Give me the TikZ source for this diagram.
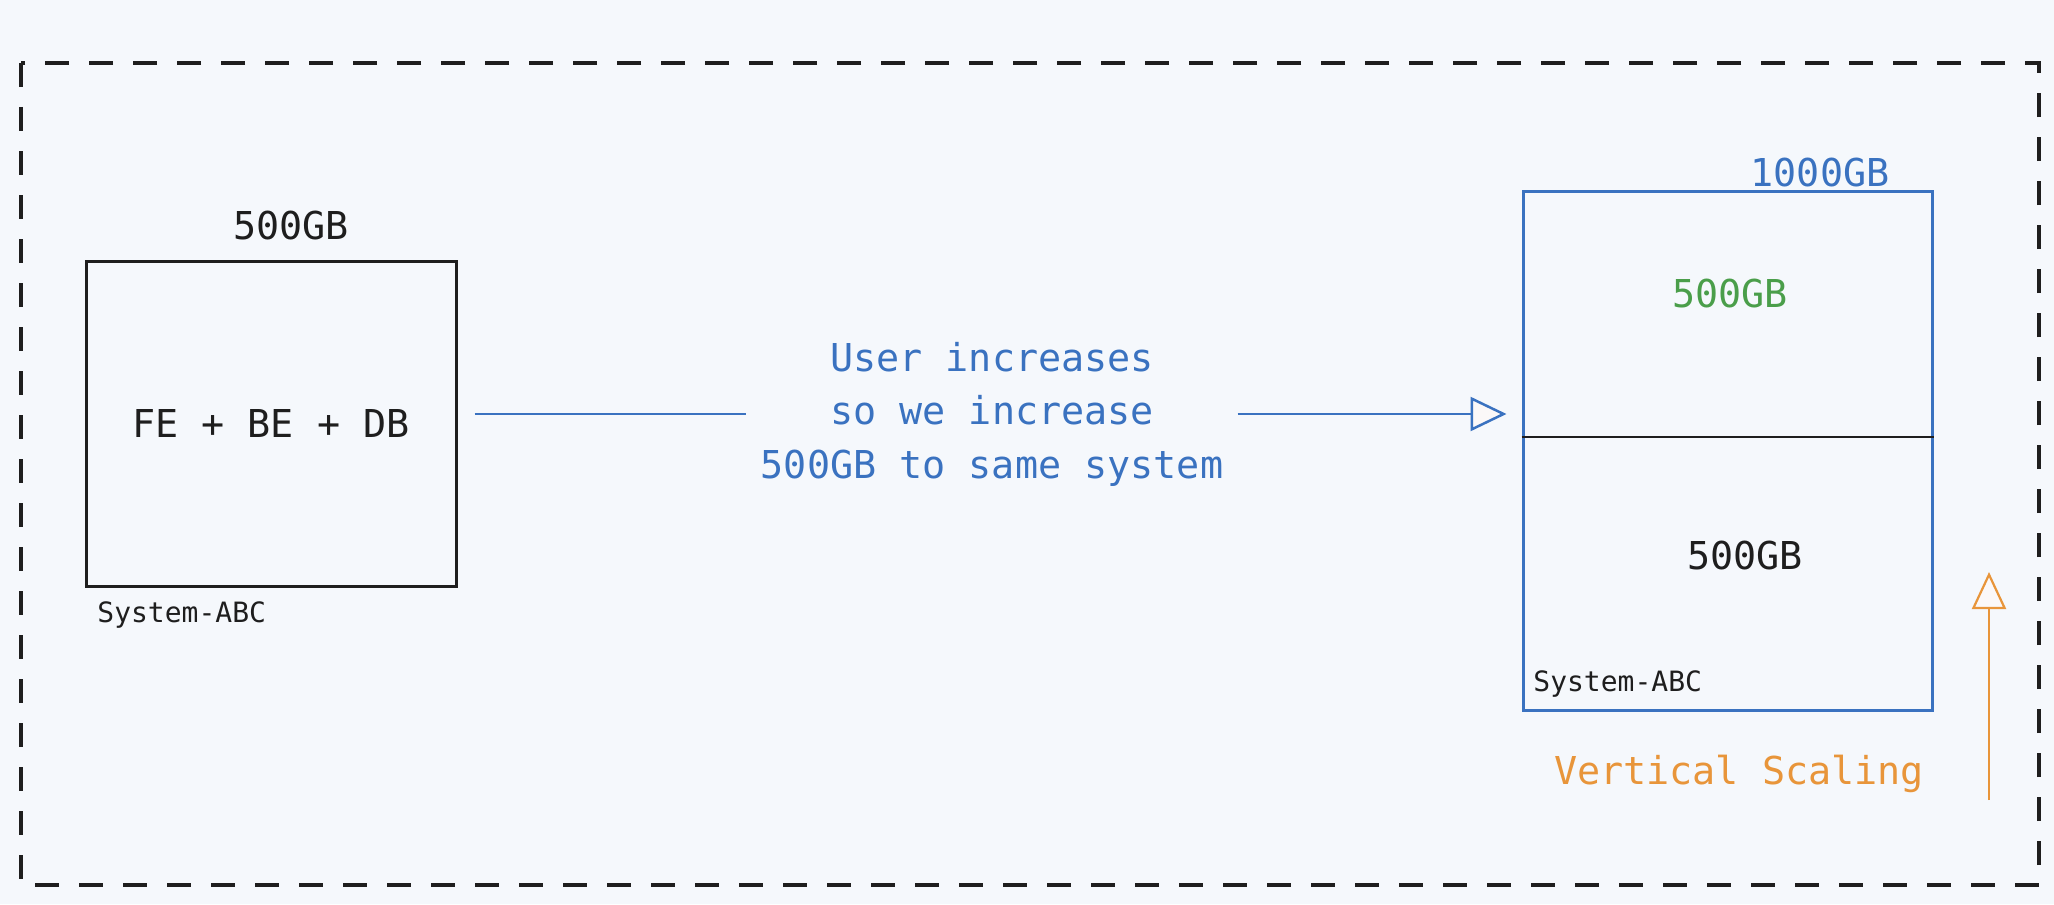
\documentclass[tikz,border=0pt]{standalone}
\usepackage{fontspec}
\newfontfamily\sketchfont{DejaVu Sans Mono}
\usetikzlibrary{arrows.meta,positioning}
\definecolor{paper}{HTML}{F5F8FC}
\definecolor{ink}{HTML}{1E1E1E}
\definecolor{skyblue}{HTML}{3A72C0}
\definecolor{leafgreen}{HTML}{4A9E4A}
\definecolor{amber}{HTML}{E8953A}
\definecolor{tipfill}{HTML}{FBF8F8}
\tikzset{
	sysbox/.style={draw, rectangle, line width=1.5pt, inner sep=0pt},
	lbl/.style={font=\sketchfont\fontsize{19.2pt}{26.75pt}\selectfont, inner sep=0pt},
	tag/.style={font=\sketchfont\fontsize{14pt}{16pt}\selectfont, inner sep=0pt, text=ink},
	flow/.style={draw=skyblue, line width=1.25pt, -{Triangle[length=18pt, width=17pt, fill=tipfill]}},
	upflow/.style={draw=amber, line width=1.1pt, -{Triangle[length=18.5pt, width=17pt, fill=tipfill]}}
}

\begin{document}
\begin{tikzpicture}[x=0.5pt, y=-0.5pt]
		\fill[paper] (0,0) rectangle (2054,904);
		\draw[ink, line width=2pt, dash pattern=on 12pt off 10pt] (21,63) rectangle (2039,885);
		% old system
		\node[sysbox, draw=ink, minimum width=185pt, minimum height=162.5pt, lbl, text=ink] (core) at (271,423.5) {FE + BE + DB};
		\node[lbl, text=ink, anchor=base] (coresize) at (291,239) {500GB};
		\node[tag, anchor=base west] (corename) at (97,622) {System-ABC};
		% scaled system
		\node[sysbox, draw=skyblue, minimum width=204.5pt, minimum height=259.5pt] (big) at (1727.5,450.5) {};
		\draw[ink, line width=1.25pt] (big.west |- 0,437) -- (big.east |- 0,437);
		\node[lbl, text=skyblue, anchor=base] (bigsize) at (1820,186) {1000GB};
		\node[lbl, text=leafgreen, anchor=base] (addsize) at (1730,307) {500GB};
		\node[lbl, text=ink, anchor=base] (oldsize) at (1745,569) {500GB};
		\node[tag, anchor=base west] (bigname) at (1533,691) {System-ABC};
		% the step between them
		\node[lbl, text=skyblue, align=center, inner xsep=7pt] (note) at (992,414) {User increases\\so we increase\\500GB to same system};
		\draw[skyblue, line width=1.25pt, shorten <=8.5pt] (core.east |- note.center) -- (note.west);
		\draw[flow, shorten >=7.5pt] (note.east) -- (note.east -| big.west);
		\coordinate (rise0) at (1989,800);
		\coordinate (rise1) at (1989,572);
		\draw[upflow] (rise0) -- (rise1);
		\node[lbl, text=amber, anchor=base] (risename) at (1739,784) {Vertical Scaling};
\end{tikzpicture}
\end{document}
